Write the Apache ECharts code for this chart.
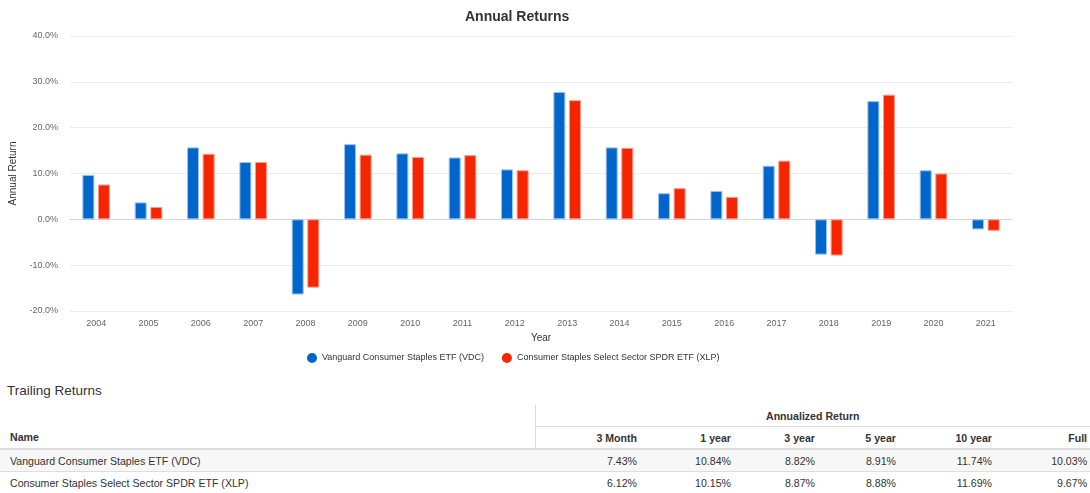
<!DOCTYPE html>
<html>
<head>
<meta charset="utf-8">
<script src="https://cdn.jsdelivr.net/npm/echarts@6/dist/echarts.min.js"></script>
<style>
  html, body { margin: 0; padding: 0; background: #fff; }
  body { width: 1090px; height: 493px; position: relative; overflow: hidden; font-family: "Liberation Sans", Arial, sans-serif; }
  #chart { position: absolute; left: 0; top: 0; width: 1090px; height: 375px; }
  #trailTitle { position: absolute; left: 7px; top: 382px; font-size: 13.5px; color: #333; line-height: 18px; }
  #tbl { position: absolute; left: 0; top: 405px; width: 1090px; border-collapse: collapse; font-size: 10.6px; color: #333; table-layout: fixed; }
  #tbl td, #tbl th { padding: 0 4px 0 10px; white-space: nowrap; }
  #tbl th { font-weight: bold; }
  #tbl .num { text-align: right; padding-left: 0; }
  #tbl .last { padding-right: 3px; }
  #tbl tr.h1 td, #tbl tr.h1 th { height: 21px; }
  #tbl tr.h2 th { height: 21px; border-top: 1px solid #ddd; border-bottom: 2px solid #ddd; }
  #tbl tr.r td { height: 21px; border-bottom: 1px solid #ddd; }
  #tbl tr.r1 td { background: #f7f7f7; }
  #tbl tr.r2 td { border-bottom: none; }
  #tbl .vl { border-left: 1px solid #ddd; }
</style>
</head>
<body>
<div id="chart"></div>
<div id="trailTitle">Trailing Returns</div>
<table id="tbl"></table>
<script>
const years = ['2004','2005','2006','2007','2008','2009','2010','2011','2012','2013','2014','2015','2016','2017','2018','2019','2020','2021'];
const vdcReturns = [9.7, 3.7, 15.7, 12.5, -16.4, 16.4, 14.4, 13.5, 10.9, 27.8, 15.7, 5.7, 6.2, 11.7, -7.7, 25.8, 10.7, -2.2];
const xlpReturns = [7.6, 2.7, 14.3, 12.5, -14.9, 14.1, 13.6, 14.0, 10.7, 26.0, 15.6, 6.8, 4.9, 12.8, -7.9, 27.2, 10.0, -2.5];
const seriesNames = ['Vanguard Consumer Staples ETF (VDC)', 'Consumer Staples Select Sector SPDR ETF (XLP)'];
const periodLabels = ['3 Month', '1 year', '3 year', '5 year', '10 year', 'Full'];
const vdcTrailing = ['7.43%', '10.84%', '8.82%', '8.91%', '11.74%', '10.03%'];
const xlpTrailing = ['6.12%', '10.15%', '8.87%', '8.88%', '11.69%', '9.67%'];

const chart = echarts.init(document.getElementById('chart'), null, { renderer: 'canvas' });
const font = '"Liberation Sans", Arial, sans-serif';
chart.setOption({
  animation: false,
  textStyle: { fontFamily: font },
  title: {
    text: 'Annual Returns', left: 460, top: 5,
    textStyle: { fontSize: 14, fontWeight: 'bold', color: '#333', fontFamily: font }
  },
  legend: {
    data: seriesNames, top: 348, left: 302, icon: 'circle', itemWidth: 10, itemHeight: 10, itemGap: 18,
    itemStyle: { borderWidth: 0 },
    textStyle: { fontSize: 9, color: '#333', fontFamily: font }
  },
  grid: { left: 70, right: 78, top: 36, bottom: 64 },
  xAxis: {
    type: 'category', data: years,
    name: 'Year', nameLocation: 'middle', nameGap: 19,
    nameTextStyle: { fontSize: 10, color: '#333' },
    axisLine: { lineStyle: { color: '#ccd6eb' } },
    axisTick: { show: false },
    axisLabel: { fontSize: 9, color: '#666', margin: 8 }
  },
  yAxis: {
    type: 'value', min: -20, max: 40, interval: 10,
    name: 'Annual Return', nameLocation: 'middle', nameGap: 43, nameRotate: 90,
    nameTextStyle: { fontSize: 10, color: '#333' },
    axisLine: { show: false }, axisTick: { show: false },
    axisLabel: { fontSize: 9, color: '#666', margin: 12, formatter: v => v.toFixed(1) + '%' },
    splitLine: { lineStyle: { color: '#ebebeb' } }
  },
  series: [
    { name: seriesNames[0], type: 'bar', data: vdcReturns, barWidth: 12, barGap: '30%',
      itemStyle: { color: '#0066cc', borderColor: '#9cc4ec', borderWidth: 1 } },
    { name: seriesNames[1], type: 'bar', data: xlpReturns, barWidth: 12,
      itemStyle: { color: '#f52500', borderColor: '#ff9a8c', borderWidth: 1 } }
  ]
});

// table
const widths = [535, 106, 94, 84, 81, 96, 94];
const tbl = document.getElementById('tbl');
const cls = (i) => 'num' + (i === 0 ? ' vl' : '') + (i === 5 ? ' last' : '');
let html = '<colgroup>' + widths.map(w => '<col style="width:' + w + 'px">').join('') + '</colgroup>';
html += '<tr class="h1"><td></td><th class="vl" colspan="6" style="text-align:center;padding:0">Annualized Return</th></tr>';
html += '<tr class="h2"><th style="text-align:left;border-top:none">Name</th>' + periodLabels.map((p, i) => '<th class="' + cls(i) + '">' + p + '</th>').join('') + '</tr>';
html += '<tr class="r r1"><td>' + seriesNames[0] + '</td>' + vdcTrailing.map((v, i) => '<td class="' + cls(i).replace(' vl', '') + '">' + v + '</td>').join('') + '</tr>';
html += '<tr class="r r2"><td>' + seriesNames[1] + '</td>' + xlpTrailing.map((v, i) => '<td class="' + cls(i).replace(' vl', '') + '">' + v + '</td>').join('') + '</tr>';
tbl.innerHTML = html;
</script>
</body>
</html>
